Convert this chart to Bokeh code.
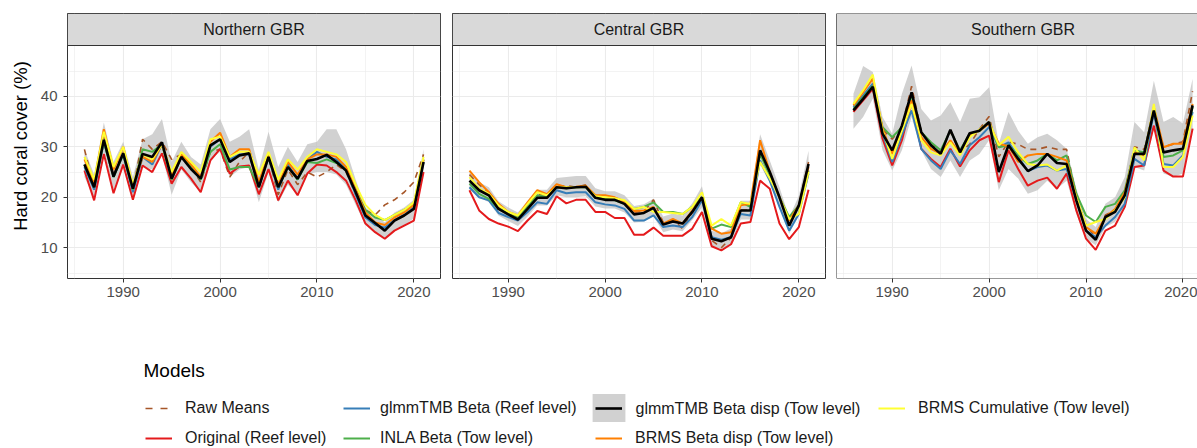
from bokeh.plotting import figure
from bokeh.layouts import row, column
from bokeh.models import (Range1d, FixedTicker, BoxAnnotation, Label, Legend,
                          LegendItem, ColumnDataSource, Span)
from bokeh.embed import file_html
from bokeh.resources import INLINE

# ---------------- data ----------------
YEARS = list(range(1986, 2022))
REGIONS = ["Northern GBR", "Central GBR", "Southern GBR"]
X_TICKS = [1990, 2000, 2010, 2020]
X_MINOR = [1985, 1995, 2005, 2015]
Y_TICKS = [10, 20, 30, 40]
Y_MINOR = [5, 15, 25, 35, 45]

MODELS = ["Raw Means", "Original (Reef level)", "glmmTMB Beta (Reef level)",
          "INLA Beta (Tow level)", "glmmTMB Beta disp (Tow level)",
          "BRMS Beta disp (Tow level)", "BRMS Cumulative (Tow level)"]

north_raw = [29.5, 22.0, 32.0, 24.5, 29.0, 21.5, 31.5, 29.5, 31.0, 27.5, 28.5, 26.0, 23.0, 29.0, 29.5, 24.0, 27.0, 29.0,
             22.5, 28.0, 20.5, 25.5, 22.5, 25.0, 24.0, 25.0, 26.5, 25.0, 20.5, 17.5, 16.5, 18.5, 19.5, 21.0, 23.0, 28.5]
north_orig = [25.3, 19.4, 28.6, 20.8, 26.5, 19.5, 26.3, 25.0, 28.7, 22.7, 26.0, 23.7, 21.0, 27.3, 29.6, 24.7, 26.1, 26.3,
              20.6, 25.6, 19.4, 23.3, 20.4, 24.7, 26.5, 26.3, 25.0, 23.3, 19.4, 14.8, 13.1, 11.8, 13.4, 14.4, 15.4, 25.0]
north_glmm_reef = [26.0, 21.5, 31.0, 24.0, 28.5, 21.0, 28.0, 26.5, 30.5, 24.0, 28.0, 26.0, 23.5, 30.0, 31.5, 27.5, 28.5, 28.5,
                   22.0, 28.0, 21.5, 26.5, 23.5, 27.5, 29.0, 28.0, 27.5, 25.5, 20.5, 16.0, 14.5, 14.0, 15.5, 16.5, 18.0, 27.0]
north_inla = [26.5, 22.0, 31.0, 24.0, 28.5, 21.5, 29.5, 29.0, 30.5, 23.5, 28.0, 26.0, 23.5, 29.0, 30.5, 25.5, 26.0, 26.0,
              22.0, 28.0, 22.0, 26.0, 23.5, 27.0, 26.8, 27.5, 26.8, 25.5, 21.5, 17.5, 16.0, 15.5, 16.5, 17.5, 18.5, 27.5]
north_glmm_disp = [26.5, 22.0, 31.4, 24.1, 28.7, 21.7, 28.6, 28.0, 30.9, 23.7, 28.0, 25.6, 23.7, 30.3, 31.5, 27.0, 28.3, 28.7,
                   22.0, 28.0, 22.0, 26.0, 23.7, 27.2, 27.6, 28.4, 27.0, 25.3, 21.0, 16.4, 14.9, 13.4, 15.4, 16.4, 17.7, 27.0]
north_glmm_disp_lo = [24.0, 19.8, 29.0, 21.5, 26.0, 19.5, 26.0, 25.5, 28.5, 20.5, 25.5, 23.0, 21.0, 27.5, 29.0, 24.0, 25.5, 26.0,
                      19.0, 25.0, 19.0, 22.5, 20.5, 24.5, 25.0, 25.0, 24.5, 22.5, 18.5, 14.5, 13.0, 11.8, 13.5, 14.5, 15.8, 24.5]
north_glmm_disp_hi = [29.5, 24.5, 34.8, 27.0, 31.0, 24.0, 31.5, 32.5, 35.5, 27.0, 31.0, 28.0, 26.5, 33.5, 35.5, 31.0, 32.0, 33.5,
                      25.5, 33.0, 26.0, 30.0, 27.0, 30.5, 31.0, 33.5, 33.5, 29.5, 23.5, 18.0, 16.5, 15.0, 17.0, 18.0, 19.5, 29.5]
north_brms_disp = [27.5, 23.0, 33.5, 25.5, 30.0, 22.0, 28.0, 27.0, 30.5, 24.5, 28.5, 26.5, 24.0, 31.0, 32.8, 28.0, 29.5, 29.5,
                   23.0, 28.5, 22.5, 27.0, 24.5, 27.5, 28.5, 28.5, 28.0, 26.0, 21.5, 17.0, 15.0, 14.5, 16.0, 17.0, 18.5, 27.5]
north_brms_cum = [28.0, 23.5, 33.0, 26.0, 30.0, 22.5, 28.5, 27.5, 30.5, 25.0, 29.0, 27.0, 25.0, 31.5, 32.0, 28.0, 29.0, 29.0,
                  24.5, 29.0, 23.5, 27.5, 25.5, 28.0, 29.5, 29.0, 28.5, 27.0, 22.5, 18.5, 16.5, 15.5, 16.5, 17.5, 19.0, 28.0]

central_raw = [24.5, 22.5, 21.0, 18.0, 16.8, 15.8, 18.5, 20.5, 20.5, 22.0, 22.3, 22.0, 22.5, 20.0, 19.8, 19.8, 19.0, 17.0,
               17.2, 19.5, 15.0, 15.5, 13.8, 17.0, 20.0, 11.5, 10.0, 12.0, 17.5, 17.5, 29.0, 24.5, 20.0, 14.5, 18.5, 27.0]
central_orig = [21.4, 17.4, 15.7, 14.8, 14.2, 13.3, 15.4, 17.3, 16.7, 20.2, 18.8, 19.5, 19.5, 17.1, 17.1, 15.9, 15.9, 12.6,
                12.6, 14.0, 12.4, 12.4, 12.4, 13.8, 17.1, 10.3, 9.5, 10.7, 14.8, 15.1, 23.3, 21.7, 14.8, 11.7, 14.1, 21.5]
central_glmm_reef = [22.0, 20.0, 19.4, 16.9, 16.1, 15.4, 17.1, 19.0, 18.7, 21.4, 20.8, 21.0, 21.0, 19.0, 18.6, 18.4, 17.7, 15.4,
                     15.4, 16.4, 14.1, 14.4, 14.1, 16.1, 19.4, 12.1, 11.6, 12.1, 16.7, 16.4, 27.3, 23.3, 18.1, 13.4, 16.7, 24.7]
central_inla = [22.7, 20.7, 19.7, 17.7, 16.9, 16.1, 18.1, 20.4, 20.0, 22.0, 21.8, 22.0, 22.0, 19.9, 19.7, 19.4, 18.7, 17.7,
                18.1, 19.0, 17.1, 17.1, 16.7, 18.1, 20.0, 13.8, 14.6, 14.1, 19.0, 18.1, 28.6, 24.3, 20.0, 16.1, 18.4, 25.3]
central_glmm_disp = [23.3, 21.4, 20.4, 17.7, 16.6, 15.6, 17.7, 19.9, 19.9, 22.0, 21.8, 22.0, 22.1, 19.9, 19.5, 19.5, 18.7, 16.6,
                     16.9, 17.9, 14.6, 15.2, 14.8, 17.1, 20.0, 11.8, 11.3, 12.1, 17.4, 17.4, 29.3, 25.0, 20.0, 14.4, 18.4, 26.6]
central_glmm_disp_lo = [21.5, 20.0, 19.0, 16.4, 15.3, 14.3, 16.2, 18.4, 18.4, 20.4, 20.0, 20.0, 20.2, 18.2, 17.8, 17.8, 17.0, 15.0,
                        15.2, 16.2, 13.1, 13.6, 13.3, 15.5, 18.0, 10.3, 9.8, 10.6, 15.6, 15.6, 26.5, 22.8, 18.0, 12.8, 16.6, 24.0]
central_glmm_disp_hi = [25.0, 23.0, 22.0, 19.2, 18.0, 17.0, 19.3, 21.5, 21.5, 23.8, 24.0, 24.2, 24.2, 21.8, 21.2, 21.2, 20.4, 18.3,
                        18.6, 19.7, 16.2, 16.8, 16.4, 18.8, 22.2, 13.4, 12.9, 13.8, 19.3, 19.3, 32.5, 27.3, 22.0, 16.0, 20.3, 29.2]
central_brms_disp = [25.3, 23.0, 21.0, 18.7, 17.1, 16.4, 19.0, 21.4, 20.6, 22.6, 22.0, 22.1, 22.3, 20.4, 20.4, 20.0, 19.2, 17.3,
                     17.4, 18.1, 14.8, 15.7, 14.8, 17.4, 20.0, 13.8, 12.8, 13.1, 18.4, 18.7, 31.3, 25.0, 20.0, 15.4, 18.4, 26.0]
central_brms_cum = [24.0, 21.7, 20.7, 18.4, 17.1, 16.4, 18.7, 21.0, 20.4, 22.0, 22.0, 22.0, 22.1, 20.2, 20.0, 19.8, 19.4, 17.7,
                    18.1, 17.1, 17.1, 16.9, 16.7, 18.1, 21.0, 14.4, 15.7, 14.4, 19.0, 18.7, 27.0, 23.7, 20.0, 15.7, 16.7, 25.0]

south_raw = [37.0, 40.0, 42.0, 33.5, 31.5, 34.0, 42.0, 33.0, 30.5, 29.0, 33.0, 29.0, 30.5, 33.5, 36.0, 28.0, 31.0, 30.5,
             29.5, 29.5, 30.0, 29.5, 29.5, 20.0, 14.5, 12.0, 16.5, 17.5, 21.0, 30.0, 29.5, 36.5, 30.0, 30.5, 31.0, 41.0]
south_orig = [36.9, 39.2, 41.5, 31.6, 26.3, 31.3, 38.8, 29.6, 27.6, 26.0, 29.6, 26.1, 29.3, 31.3, 32.2, 23.0, 29.3, 25.6,
              22.3, 23.3, 23.9, 21.7, 24.7, 17.4, 11.8, 9.6, 13.4, 14.4, 18.1, 26.0, 26.3, 34.2, 25.3, 24.1, 24.1, 33.6]
south_glmm_reef = [37.9, 40.2, 42.5, 32.6, 27.0, 32.3, 37.2, 29.6, 27.3, 25.6, 29.3, 26.6, 30.3, 31.9, 33.9, 29.9, 30.9, 28.0,
                   25.2, 26.0, 26.3, 25.3, 25.6, 19.4, 13.4, 12.1, 14.4, 16.1, 18.7, 27.6, 26.3, 36.9, 26.6, 26.3, 28.3, 36.9]
south_inla = [37.5, 39.8, 42.1, 33.9, 31.9, 33.9, 40.2, 32.9, 30.9, 29.3, 33.2, 29.3, 32.6, 33.1, 34.7, 29.9, 30.3, 28.3,
              26.6, 27.3, 28.6, 27.3, 28.3, 20.7, 16.4, 15.1, 18.1, 18.7, 21.4, 29.3, 28.9, 37.5, 28.0, 28.3, 29.3, 37.9]
south_glmm_disp = [37.2, 39.5, 41.9, 32.6, 29.3, 34.2, 40.8, 32.9, 30.3, 28.6, 33.4, 28.9, 32.7, 33.2, 34.9, 25.0, 30.3, 27.6,
                   25.2, 26.3, 28.6, 26.8, 26.6, 19.4, 13.4, 11.6, 16.1, 17.1, 20.4, 28.6, 28.6, 37.2, 28.9, 29.3, 29.6, 38.2]
south_glmm_disp_lo = [33.6, 35.9, 39.5, 29.3, 25.3, 29.3, 35.9, 29.3, 25.6, 24.0, 27.3, 24.0, 27.3, 28.6, 31.3, 21.4, 25.6, 23.7,
                      20.7, 21.4, 23.3, 21.7, 23.3, 16.7, 11.8, 10.5, 14.1, 15.1, 18.1, 26.0, 25.3, 33.6, 24.7, 24.0, 24.7, 33.6]
south_glmm_disp_hi = [40.5, 46.0, 44.8, 35.9, 32.6, 40.5, 46.1, 37.5, 35.2, 36.2, 38.8, 34.9, 39.5, 39.8, 41.8, 30.6, 36.9, 33.2,
                      30.6, 31.9, 32.6, 31.3, 29.6, 21.7, 15.7, 14.1, 18.7, 20.0, 24.0, 34.9, 32.9, 43.1, 34.9, 35.9, 34.6, 43.5]
south_brms_disp = [38.2, 40.8, 43.5, 33.6, 28.6, 33.9, 39.2, 31.9, 29.6, 28.6, 31.3, 28.6, 32.2, 33.2, 34.6, 30.6, 30.1, 27.0,
                   28.3, 28.6, 28.6, 28.0, 27.3, 20.0, 14.1, 12.8, 16.1, 17.7, 21.0, 28.9, 28.3, 37.9, 29.9, 30.6, 30.6, 38.5]
south_brms_cum = [38.5, 41.2, 44.3, 33.2, 27.6, 33.2, 38.5, 31.3, 28.9, 28.3, 30.9, 28.3, 31.9, 33.4, 34.9, 30.3, 32.0, 28.9,
                  26.6, 26.3, 26.5, 25.3, 26.3, 20.0, 14.4, 15.1, 15.7, 17.4, 20.0, 29.9, 27.3, 38.5, 26.0, 26.0, 28.0, 36.2]

# ---------------- style ----------------
FONT = "Liberation Sans"
C_RAW = "#a65628"
C_ORIG = "#e41a1c"
C_REEF = "#377eb8"
C_INLA = "#4daf4a"
C_DISP = "#000000"
C_BRMSD = "#ff7f00"
C_BRMSC = "#ffff33"
RIBBON = "#bebebe"
BORDER = "#333333"
GRID = "#ebebeb"

XMIN, XMAX = 1984.25, 2022.75
YMIN, YTOP = 3.92, 56.4
STRIP_BOTTOM = 50.06
STRIP_MID = 53.2


def region_source(raw, orig, reef, inla, disp, lo, hi, bd, bc):
    return ColumnDataSource(dict(year=YEARS, raw=raw, orig=orig, reef=reef, inla=inla,
                                 disp=disp, lo=lo, hi=hi, brmsd=bd, brmsc=bc))


sources = [
    region_source(north_raw, north_orig, north_glmm_reef, north_inla, north_glmm_disp,
                  north_glmm_disp_lo, north_glmm_disp_hi, north_brms_disp, north_brms_cum),
    region_source(central_raw, central_orig, central_glmm_reef, central_inla, central_glmm_disp,
                  central_glmm_disp_lo, central_glmm_disp_hi, central_brms_disp, central_brms_cum),
    region_source(south_raw, south_orig, south_glmm_reef, south_inla, south_glmm_disp,
                  south_glmm_disp_lo, south_glmm_disp_hi, south_brms_disp, south_brms_cum),
]


def make_panel(title, src, width, bl, br, x_end, show_y, cut_right=False):
    p = figure(width=width, height=320, x_range=Range1d(XMIN, x_end), y_range=Range1d(YMIN, YTOP),
               output_backend="svg", toolbar_location=None,
               min_border_left=bl, min_border_right=br, min_border_top=13, min_border_bottom=42)
    p.background_fill_color = "white"
    p.border_fill_color = "white"
    p.outline_line_width = 1

    # grid
    p.xgrid.ticker = FixedTicker(ticks=X_TICKS, minor_ticks=X_MINOR)
    p.ygrid.ticker = FixedTicker(ticks=Y_TICKS, minor_ticks=Y_MINOR)
    for g in (p.xgrid, p.ygrid):
        g.grid_line_color = GRID
        g.grid_line_width = 1.1
        g.minor_grid_line_color = GRID
        g.minor_grid_line_width = 0.6

    # axes
    p.xaxis.ticker = FixedTicker(ticks=X_TICKS, minor_ticks=X_MINOR)
    p.yaxis.ticker = FixedTicker(ticks=Y_TICKS, minor_ticks=Y_MINOR)
    for ax in (p.xaxis, p.yaxis):
        ax.axis_line_color = None
        ax.major_tick_line_color = BORDER
        ax.major_tick_in = 0
        ax.major_tick_out = 4
        ax.minor_tick_line_color = None
        ax.major_label_text_font = FONT
        ax.major_label_text_font_size = "15px"
        ax.major_label_text_color = "#4d4d4d"
    p.xaxis.major_label_standoff = 4
    p.yaxis.major_label_standoff = 6
    if show_y:
        p.yaxis.axis_label = "Hard coral cover (%)"
        p.yaxis.axis_label_text_font = FONT
        p.yaxis.axis_label_text_font_size = "18.5px"
        p.yaxis.axis_label_text_font_style = "normal"
        p.yaxis.axis_label_text_color = "#000000"
        p.yaxis.axis_label_standoff = 7
    else:
        p.yaxis.visible = False

    # data
    p.varea(x="year", y1="lo", y2="hi", source=src, fill_color=RIBBON, fill_alpha=0.7)
    p.line(x="year", y="raw", source=src, line_color=C_RAW, line_width=1.6, line_dash="6 5")
    p.line(x="year", y="orig", source=src, line_color=C_ORIG, line_width=2)
    p.line(x="year", y="reef", source=src, line_color=C_REEF, line_width=2)
    p.line(x="year", y="inla", source=src, line_color=C_INLA, line_width=2)
    p.line(x="year", y="brmsd", source=src, line_color=C_BRMSD, line_width=2)
    p.line(x="year", y="brmsc", source=src, line_color=C_BRMSC, line_width=2)
    p.line(x="year", y="disp", source=src, line_color=C_DISP, line_width=2.6)

    # panel border (the last panel is cut off at the right edge of the image)
    if cut_right:
        p.outline_line_color = None
        p.add_layout(Span(location=XMIN, dimension="height", line_color=BORDER, line_width=1))
        p.add_layout(Span(location=YMIN, dimension="width", line_color=BORDER, line_width=1))
        strip = BoxAnnotation(bottom=STRIP_BOTTOM, right=XMAX, fill_color="#d9d9d9", fill_alpha=1.0,
                              line_color=BORDER, line_width=1, line_alpha=1.0)
    else:
        p.outline_line_color = BORDER
        strip = BoxAnnotation(bottom=STRIP_BOTTOM, fill_color="#d9d9d9", fill_alpha=1.0,
                              line_color=BORDER, line_width=1, line_alpha=1.0)

    # facet strip
    p.add_layout(strip)
    p.add_layout(Label(x=(XMIN + XMAX) / 2, y=STRIP_MID, text=title, text_align="center",
                       text_baseline="middle", text_font=FONT, text_font_size="16px",
                       text_color="#1a1a1a"))
    return p


p1 = make_panel(REGIONS[0], sources[0], 446, 67, 6, XMAX, True)
p2 = make_panel(REGIONS[1], sources[1], 385, 6, 6, XMAX, False)
p3 = make_panel(REGIONS[2], sources[2], 366, 5, 0, XMIN + 361 / 9.69, False, cut_right=True)

# ---------------- legend ----------------
LH = 128
lf = figure(width=1197, height=LH, x_range=Range1d(0, 1197), y_range=Range1d(0, LH),
            output_backend="svg", toolbar_location=None, x_axis_type=None, y_axis_type=None,
            min_border_left=0, min_border_right=0, min_border_top=0, min_border_bottom=0)
lf.outline_line_color = None
lf.background_fill_color = "white"
lf.border_fill_color = "white"

# legend-only glyph renderers, placed outside the visible area
OFF_X = [-60, -50]
OFF_Y = [-60, -60]
OFF_Y2 = [-55, -55]
r_raw = lf.line(x=OFF_X, y=OFF_Y, line_color=C_RAW, line_width=1.6, line_dash="7 8")
r_orig = lf.line(x=OFF_X, y=OFF_Y, line_color=C_ORIG, line_width=2)
r_reef = lf.line(x=OFF_X, y=OFF_Y, line_color=C_REEF, line_width=2)
r_inla = lf.line(x=OFF_X, y=OFF_Y, line_color=C_INLA, line_width=2)
r_rib = lf.varea(x=OFF_X, y1=OFF_Y, y2=OFF_Y2, fill_color=RIBBON, fill_alpha=0.7)
r_disp = lf.line(x=OFF_X, y=OFF_Y, line_color=C_DISP, line_width=2.6)
r_brmsd = lf.line(x=OFF_X, y=OFF_Y, line_color=C_BRMSD, line_width=2)
r_brmsc = lf.line(x=OFF_X, y=OFF_Y, line_color=C_BRMSC, line_width=2)

ROW1_Y = 26   # bottom offset of first legend row (screen px)
ROW2_Y = -4   # bottom offset of second legend row


def add_key(label, renderers, x, y, gw=27, standoff=13, gh=28, fs="16px"):
    leg = Legend(items=[LegendItem(label=label, renderers=renderers)], location=(x, y),
                 orientation="vertical", glyph_width=gw, glyph_height=gh, label_height=gh,
                 spacing=0, padding=0, margin=0, label_standoff=standoff,
                 border_line_color=None, background_fill_alpha=0,
                 label_text_font=FONT, label_text_font_size=fs, label_text_color="#1a1a1a")
    lf.add_layout(leg)


# grey ribbon key + black line key (label drawn separately)
add_key(" ", [r_rib], 588, ROW1_Y - 3, gw=41, standoff=0, gh=35, fs="1px")
add_key(" ", [r_disp], 595, ROW1_Y, standoff=0, fs="1px")
lf.add_layout(Label(x=635, y=ROW1_Y + 14, text=MODELS[4], text_align="left", text_baseline="middle",
                    text_font=FONT, text_font_size="16px", text_color="#1a1a1a"))

add_key(MODELS[0], [r_raw], 145, ROW1_Y)
add_key(MODELS[1], [r_orig], 145, ROW2_Y)
add_key(MODELS[2], [r_reef], 343, ROW1_Y, standoff=10)
add_key(MODELS[3], [r_inla], 343, ROW2_Y, standoff=10)
add_key(MODELS[5], [r_brmsd], 595, ROW2_Y)
add_key(MODELS[6], [r_brmsc], 878, ROW1_Y)

lf.add_layout(Label(x=143, y=LH - 50, text="Models", text_align="left", text_baseline="middle",
                    text_font=FONT, text_font_size="19px", text_color="#000000"))

layout = column(row(p1, p2, p3, spacing=0), lf, spacing=0)

open("out.html", "w").write(file_html(layout, INLINE))
